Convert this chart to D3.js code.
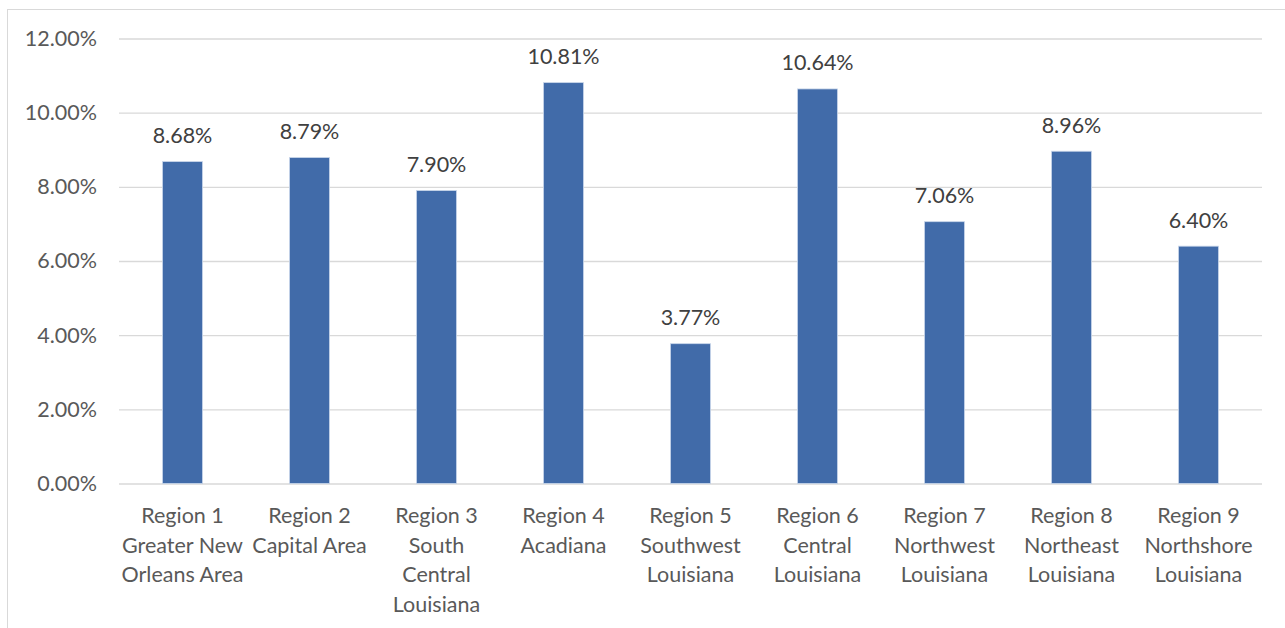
<!DOCTYPE html>
<html><head><meta charset="utf-8">
<script src="https://cdn.jsdelivr.net/npm/d3@7"></script>
<style>body{margin:0;background:#fff}svg{display:block}</style>
</head><body>
<script>
const categories = [
  ["Region 1","Greater New","Orleans Area"],
  ["Region 2","Capital Area"],
  ["Region 3","South","Central","Louisiana"],
  ["Region 4","Acadiana"],
  ["Region 5","Southwest","Louisiana"],
  ["Region 6","Central","Louisiana"],
  ["Region 7","Northwest","Louisiana"],
  ["Region 8","Northeast","Louisiana"],
  ["Region 9","Northshore","Louisiana"]
];
const values = [8.68, 8.79, 7.90, 10.81, 3.77, 10.64, 7.06, 8.96, 6.40];
const yTicks = [0, 2, 4, 6, 8, 10, 12];

const W = 1285, H = 628;
const svg = d3.select("body").append("svg").attr("width", W).attr("height", H);
svg.append("rect").attr("x", 7.5).attr("y", 9.5).attr("width", 1290).attr("height", 640)
  .attr("fill", "#fff").attr("stroke", "#d9d9d9").attr("stroke-width", 1);

const font = "Lato, 'Open Sans', sans-serif";
const fs = "21.5px";
const x = d3.scaleBand().domain(d3.range(categories.length)).range([119, 1262]).paddingInner(0.685).paddingOuter(0.3425);
const y = d3.scaleLinear().domain([0, 12]).range([483.5, 38.5]);

const yAxis = svg.append("g").attr("transform", "translate(119,0)")
  .call(d3.axisLeft(y).tickValues(yTicks).tickFormat(d => d.toFixed(2) + "%").tickSize(-1143).tickPadding(22));
yAxis.select(".domain").remove();
yAxis.selectAll("line").attr("stroke", "#d9d9d9").attr("stroke-width", 1.3);
yAxis.selectAll("text").attr("fill", "#595959").style("font-family", font).style("font-size", fs);

svg.selectAll("rect.bar").data(values).enter().append("rect").attr("class", "bar")
  .attr("x", (d, i) => x(i)).attr("width", x.bandwidth())
  .attr("y", d => y(d)).attr("height", d => y(0) - y(d))
  .attr("fill", "#416BA9").attr("stroke", "#c9d6ea").attr("stroke-width", 0.8);

svg.selectAll("text.val").data(values).enter().append("text").attr("class", "val")
  .attr("x", (d, i) => x(i) + x.bandwidth() / 2).attr("y", d => y(d) - 18.5)
  .attr("text-anchor", "middle").attr("fill", "#404040")
  .style("font-family", font).style("font-size", fs)
  .text(d => d.toFixed(2) + "%");

const lab = svg.selectAll("text.cat").data(categories).enter().append("text").attr("class", "cat")
  .attr("text-anchor", "middle").attr("fill", "#595959")
  .style("font-family", font).style("font-size", fs);
lab.each(function(lines, i) {
  const t = d3.select(this);
  lines.forEach((l, j) => {
    t.append("tspan").attr("x", x(i) + x.bandwidth() / 2).attr("y", 523 + j * 29.5).text(l);
  });
});
</script>
</body></html>
